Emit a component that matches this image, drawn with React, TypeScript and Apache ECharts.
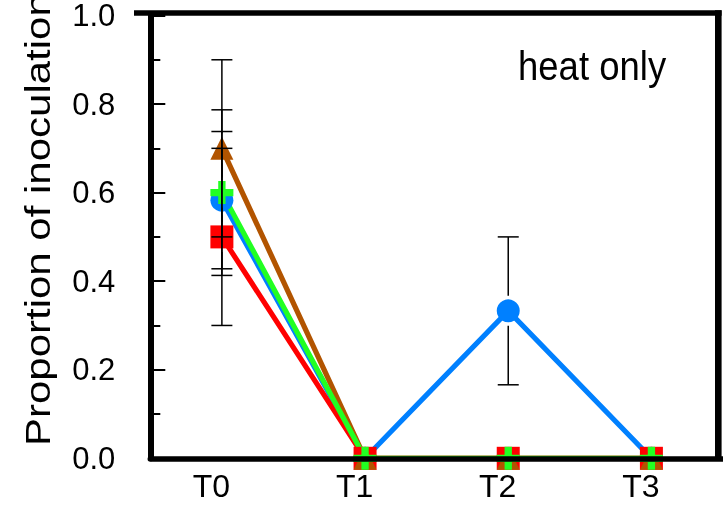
import React, { useEffect, useRef } from 'react';
import * as echarts from 'echarts';

const categories = ['T0', 'T1', 'T2', 'T3'];
const blueValues = [0.583, 0, 0.333, 0];
const blueErrors = [0.155, 0, 0.167, 0];
const redValues = [0.5, 0, 0, 0];
const redErrors = [0.2, 0, 0, 0];
const brownValues = [0.7, 0, 0, 0];
const brownErrors = [0.2, 0, 0, 0];
const greenValues = [0.6, 0, 0, 0];
const greenErrors = [0.187, 0, 0, 0];
const annotationText = 'heat only';
const yAxisTitle = 'Proportion of inoculation';

const FONT = '"Liberation Sans", Arial, Helvetica, sans-serif';
const PLUS = 'path://M7.5,0H14.5V7.5H22V14.5H14.5V22H7.5V14.5H0V7.5H7.5Z';

const seriesDefs = [
  { name: 'blue', values: blueValues, errors: blueErrors, color: '#0080ff', symbol: 'circle' },
  { name: 'red', values: redValues, errors: redErrors, color: '#ff0000', symbol: 'rect' },
  { name: 'brown', values: brownValues, errors: brownErrors, color: '#b25400', symbol: 'triangle' },
  { name: 'green', values: greenValues, errors: greenErrors, color: '#22ff22', symbol: PLUS },
];

export default function App() {
  const ref = useRef<HTMLDivElement>(null);
  useEffect(() => {
    if (!ref.current) return;
    const chart = echarts.init(ref.current, null, { renderer: 'svg' });
    const errData: number[][] = [];
    seriesDefs.forEach((s) => {
      s.values.forEach((v, i) => {
        if (s.errors[i] > 0) errData.push([i, v, s.errors[i]]);
      });
    });
    const lineSeries = seriesDefs.map((s) => ({
      name: s.name,
      type: 'line',
      data: s.values,
      symbol: s.symbol,
      symbolSize: 23,
      showSymbol: true,
      z: 2,
      lineStyle: { color: s.color, width: 5.2 },
      itemStyle: { color: s.color, borderWidth: 0 },
    }));
    chart.setOption({
      animation: false,
      grid: { left: 150.3, top: 13.2, width: 584.8, height: 445.1 },
      xAxis: {
        type: 'category',
        data: categories,
        boundaryGap: true,
        z: 10,
        axisLine: { lineStyle: { color: '#000', width: 5.5 } },
        axisTick: { inside: true, length: 14, alignWithLabel: true, lineStyle: { color: '#000', width: 1.5 } },
        axisLabel: { color: '#000', fontSize: 32, fontFamily: FONT, margin: 12, padding: [0, 21, 0, 0] },
        splitLine: { show: false },
      },
      yAxis: {
        type: 'value',
        min: 0,
        max: 1,
        interval: 0.2,
        z: 10,
        axisLine: { show: true, lineStyle: { color: '#000', width: 6 } },
        axisTick: { show: true, inside: true, length: 15, lineStyle: { color: '#000', width: 2 } },
        minorTick: { show: true, splitNumber: 2, length: 10, lineStyle: { color: '#000', width: 2 } },
        splitLine: { show: false },
        minorSplitLine: { show: false },
        axisLabel: {
          color: '#000', fontSize: 31, fontFamily: FONT, margin: 35, padding: [6, 0, 0, 0], lineHeight: 20,
          formatter: (v: number) => v.toFixed(1),
        },
      },
      series: [
        ...lineSeries,
        {
          type: 'custom',
          z: 3,
          data: errData,
          encode: { x: 0, y: 1 },
          renderItem: (params: any, api: any) => {
            const x = api.value(0);
            const y = api.value(1);
            const e = api.value(2);
            const c = api.coord([x, y]);
            const top = api.coord([x, y + e]);
            const bot = api.coord([x, y - e]);
            const gap = 15;
            const half = 10.5;
            const style = { stroke: '#000', lineWidth: 1.5 };
            return {
              type: 'group',
              children: [
                { type: 'line', shape: { x1: c[0], y1: top[1], x2: c[0], y2: c[1] - gap }, style },
                { type: 'line', shape: { x1: c[0], y1: c[1] + gap, x2: c[0], y2: bot[1] }, style },
                { type: 'line', shape: { x1: c[0] - half, y1: top[1], x2: c[0] + half, y2: top[1] }, style },
                { type: 'line', shape: { x1: c[0] - half, y1: bot[1], x2: c[0] + half, y2: bot[1] }, style },
              ],
            };
          },
        },
      ],
      graphic: [
        { type: 'line', z: 100, shape: { x1: 134, y1: 13, x2: 721.6, y2: 13 }, style: { stroke: '#000', lineWidth: 5.5 } },
        { type: 'line', z: 100, shape: { x1: 718.3, y1: 10.3, x2: 718.3, y2: 458 }, style: { stroke: '#000', lineWidth: 6.6 } },
        {
          type: 'text', z: 100, x: 518, y: 66, scaleY: 1.12,
          style: { text: annotationText, fontSize: 36.5, fontFamily: FONT, fill: '#000', align: 'left', verticalAlign: 'middle' },
        },
        {
          type: 'text', z: 100, x: 38, y: 446, rotation: Math.PI / 2, scaleX: 1.2,
          style: { text: yAxisTitle, fontSize: 35, fontFamily: FONT, fill: '#000', align: 'left', verticalAlign: 'middle' },
        },
      ],
    });
    return () => chart.dispose();
  }, []);
  return <div ref={ref} style={{ position: 'fixed', left: 0, top: 0, width: 723, height: 507 }} />;
}
